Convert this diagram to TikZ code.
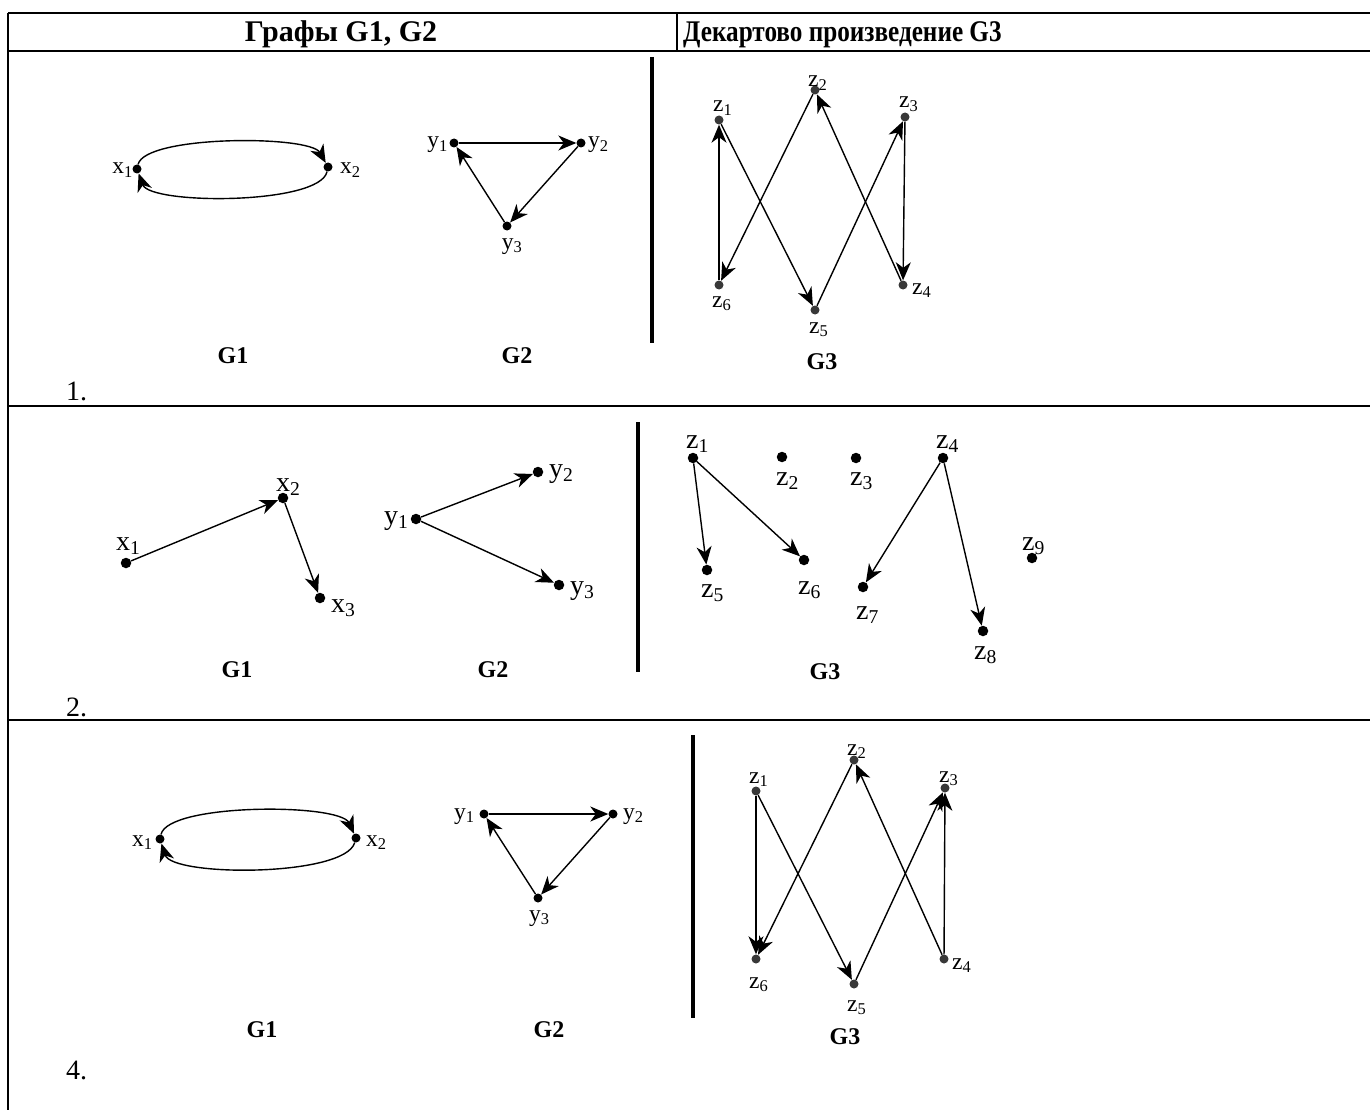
\documentclass[tikz,border=0pt]{standalone}
\usepackage{fontspec}
\usepackage{graphicx}
\setmainfont{Liberation Serif}
\usetikzlibrary{arrows.meta}
\tikzset{
 dot/.style={circle,fill=black,inner sep=0pt,minimum size=9pt},
 bdot/.style={dot,minimum size=10.5pt},
 gdot/.style={dot,fill=black!78},
 lbs/.style={inner sep=0pt,font=\fontsize{23.5}{25}\selectfont},
 lbl/.style={inner sep=0pt,font=\fontsize{28}{30}\selectfont},
 arr/.style={line width=1.4pt,-{Stealth[length=18pt,width=15pt,inset=5.5pt]}},
 gname/.style={font=\bfseries\fontsize{24}{26}\selectfont},
 num/.style={inner sep=0pt,font=\fontsize{28}{30}\selectfont},
 hdr/.style={inner sep=0pt,font=\bfseries\fontsize{30}{32}\selectfont},
 bar/.style={line width=3.5pt},
 rule/.style={line width=2.5pt},
}
\begin{document}
\begin{tikzpicture}[x=1pt,y=-1pt]
\useasboundingbox (0,0) rectangle (1370,1110);
% table
\draw[rule] (8,13) -- (1370,13);
\draw[rule] (8,51) -- (1370,51);
\draw[rule] (8,406) -- (1370,406);
\draw[rule] (8,720) -- (1370,720);
\draw[line width=2pt] (8,13) -- (8,1110);
\draw[line width=1.5pt] (677,13) -- (677,51);
\node[hdr,anchor=base] (h1) at (341,42) {Графы G1, G2};
\node[hdr,anchor=base west] (h2) at (683,42) {\scalebox{0.84}[1]{Декартово произведение G3}};
% separators
\draw[bar] (652,57) -- (652,343);
\draw[bar] (638,422) -- (638,672);
\draw[bar] (693,735) -- (693,1018);
% ===== Row 1 =====
\node[dot] (ax1) at (137,169) {};
\node[dot] (ax2) at (328,167) {};
\node[lbs,anchor=base east] (lax1) at (133,174) {x\textsubscript{1}};
\node[lbs,anchor=base west] (lax2) at (340,174) {x\textsubscript{2}};
\draw[arr] (ax1) .. controls (145,135) and (310,135) .. (ax2);
\draw[arr] (ax2) .. controls (320,205) and (150,205) .. (ax1);
\node[dot] (ay1) at (454,143) {};
\node[dot] (ay2) at (581,143) {};
\node[dot] (ay3) at (507,226) {};
\node[lbs,anchor=base east] (lay1) at (448,148) {y\textsubscript{1}};
\node[lbs,anchor=base west] (lay2) at (588,148) {y\textsubscript{2}};
\node[lbs,anchor=base] (lay3) at (512,249) {y\textsubscript{3}};
\draw[arr] (ay1) -- (ay2);
\draw[arr] (ay2) -- (ay3);
\draw[arr] (ay3) -- (ay1);
\node[gdot] (az1) at (719,120) {};
\node[gdot] (az2) at (815,90) {};
\node[gdot] (az3) at (905,117) {};
\node[gdot] (az4) at (903,285) {};
\node[gdot] (az5) at (815,310) {};
\node[gdot] (az6) at (719,285) {};
\node[lbs,anchor=base west] (laz1) at (713,112) {z\textsubscript{1}};
\node[lbs,anchor=base west] (laz2) at (808,87) {z\textsubscript{2}};
\node[lbs,anchor=base west] (laz3) at (899,108) {z\textsubscript{3}};
\node[lbs,anchor=base west] (laz4) at (912,294) {z\textsubscript{4}};
\node[lbs,anchor=base west] (laz5) at (809,333) {z\textsubscript{5}};
\node[lbs,anchor=base west] (laz6) at (712,307) {z\textsubscript{6}};
\draw[arr] (az6) -- (az1);
\draw[arr] (az1) -- (az5);
\draw[arr] (az2) -- (az6);
\draw[arr] (az4) -- (az2);
\draw[arr] (az5) -- (az3);
\draw[arr] (az3) -- (az4);
\node[gname] (ag1) at (233,356) {G1};
\node[gname] (ag2) at (517,356) {G2};
\node[gname] (ag3) at (822,362) {G3};
\node[num,anchor=base west] (n1) at (66,400) {1.};
% ===== Row 2 =====
\node[bdot] (bx1) at (126,563) {};
\node[bdot] (bx2) at (283,498) {};
\node[bdot] (bx3) at (320,598) {};
\node[lbl,anchor=base west] (lbx1) at (116,550) {x\textsubscript{1}};
\node[lbl,anchor=base west] (lbx2) at (276,491) {x\textsubscript{2}};
\node[lbl,anchor=base west] (lbx3) at (331,612) {x\textsubscript{3}};
\draw[arr] (bx1) -- (bx2);
\draw[arr] (bx2) -- (bx3);
\node[bdot] (by1) at (416,519) {};
\node[bdot] (by2) at (538,472) {};
\node[bdot] (by3) at (559,585) {};
\node[lbl,anchor=base west] (lby1) at (384,524) {y\textsubscript{1}};
\node[lbl,anchor=base west] (lby2) at (549,477) {y\textsubscript{2}};
\node[lbl,anchor=base west] (lby3) at (570,594) {y\textsubscript{3}};
\draw[arr] (by1) -- (by2);
\draw[arr] (by1) -- (by3);
\node[bdot] (bz1) at (693,458) {};
\node[bdot] (bz2) at (782,457) {};
\node[bdot] (bz3) at (856,458) {};
\node[bdot] (bz4) at (943,458) {};
\node[bdot] (bz5) at (707,570) {};
\node[bdot] (bz6) at (804,560) {};
\node[bdot] (bz7) at (863,587) {};
\node[bdot] (bz8) at (983,631) {};
\node[bdot] (bz9) at (1032,558) {};
\node[lbl,anchor=base west] (lbz1) at (686,448) {z\textsubscript{1}};
\node[lbl,anchor=base west] (lbz2) at (776,485) {z\textsubscript{2}};
\node[lbl,anchor=base west] (lbz3) at (850,485) {z\textsubscript{3}};
\node[lbl,anchor=base west] (lbz4) at (936,448) {z\textsubscript{4}};
\node[lbl,anchor=base west] (lbz5) at (701,597) {z\textsubscript{5}};
\node[lbl,anchor=base west] (lbz6) at (798,594) {z\textsubscript{6}};
\node[lbl,anchor=base west] (lbz7) at (856,619) {z\textsubscript{7}};
\node[lbl,anchor=base west] (lbz8) at (974,659) {z\textsubscript{8}};
\node[lbl,anchor=base west] (lbz9) at (1022,550) {z\textsubscript{9}};
\draw[arr] (bz1) -- (bz5);
\draw[arr] (bz1) -- (bz6);
\draw[arr] (bz4) -- (bz7);
\draw[arr] (bz4) -- (bz8);
\node[gname] (bg1) at (237,670) {G1};
\node[gname] (bg2) at (493,670) {G2};
\node[gname] (bg3) at (825,672) {G3};
\node[num,anchor=base west] (n2) at (66,716) {2.};
% ===== Row 3 =====
\node[dot] (cx1) at (160,839) {};
\node[dot] (cx2) at (356,838) {};
\node[lbs,anchor=base west] (lcx1) at (132,846) {x\textsubscript{1}};
\node[lbs,anchor=base west] (lcx2) at (366,846) {x\textsubscript{2}};
\draw[arr] (cx1) .. controls (168,803) and (340,803) .. (cx2);
\draw[arr] (cx2) .. controls (345,877) and (172,877) .. (cx1);
\node[dot] (cy1) at (484,814) {};
\node[dot] (cy2) at (613,814) {};
\node[dot] (cy3) at (538,898) {};
\node[lbs,anchor=base west] (lcy1) at (454,819) {y\textsubscript{1}};
\node[lbs,anchor=base west] (lcy2) at (623,819) {y\textsubscript{2}};
\node[lbs,anchor=base west] (lcy3) at (529,921) {y\textsubscript{3}};
\draw[arr] (cy1) -- (cy2);
\draw[arr] (cy2) -- (cy3);
\draw[arr] (cy3) -- (cy1);
\node[gdot] (cz1) at (756,791) {};
\node[gdot] (cz2) at (854,760) {};
\node[gdot] (cz3) at (945,788) {};
\node[gdot] (cz4) at (944,959) {};
\node[gdot] (cz5) at (854,984) {};
\node[gdot] (cz6) at (756,959) {};
\node[lbs,anchor=base west] (lcz1) at (749,783) {z\textsubscript{1}};
\node[lbs,anchor=base west] (lcz2) at (847,755) {z\textsubscript{2}};
\node[lbs,anchor=base west] (lcz3) at (939,782) {z\textsubscript{3}};
\node[lbs,anchor=base west] (lcz4) at (952,969) {z\textsubscript{4}};
\node[lbs,anchor=base west] (lcz5) at (847,1011) {z\textsubscript{5}};
\node[lbs,anchor=base west] (lcz6) at (749,988) {z\textsubscript{6}};
\draw[arr] (cz1) -- (cz6);
\draw[arr] (cz1) -- (cz5);
\draw[arr] (cz2) -- (cz6);
\draw[arr] (cz4) -- (cz2);
\draw[arr] (cz5) -- (cz3);
\draw[arr] (cz4) -- (cz3);
\node[gname] (cg1) at (262,1030) {G1};
\node[gname] (cg2) at (549,1030) {G2};
\node[gname] (cg3) at (845,1037) {G3};
\node[num,anchor=base west] (n4) at (66,1079) {4.};
\end{tikzpicture}
\end{document}
